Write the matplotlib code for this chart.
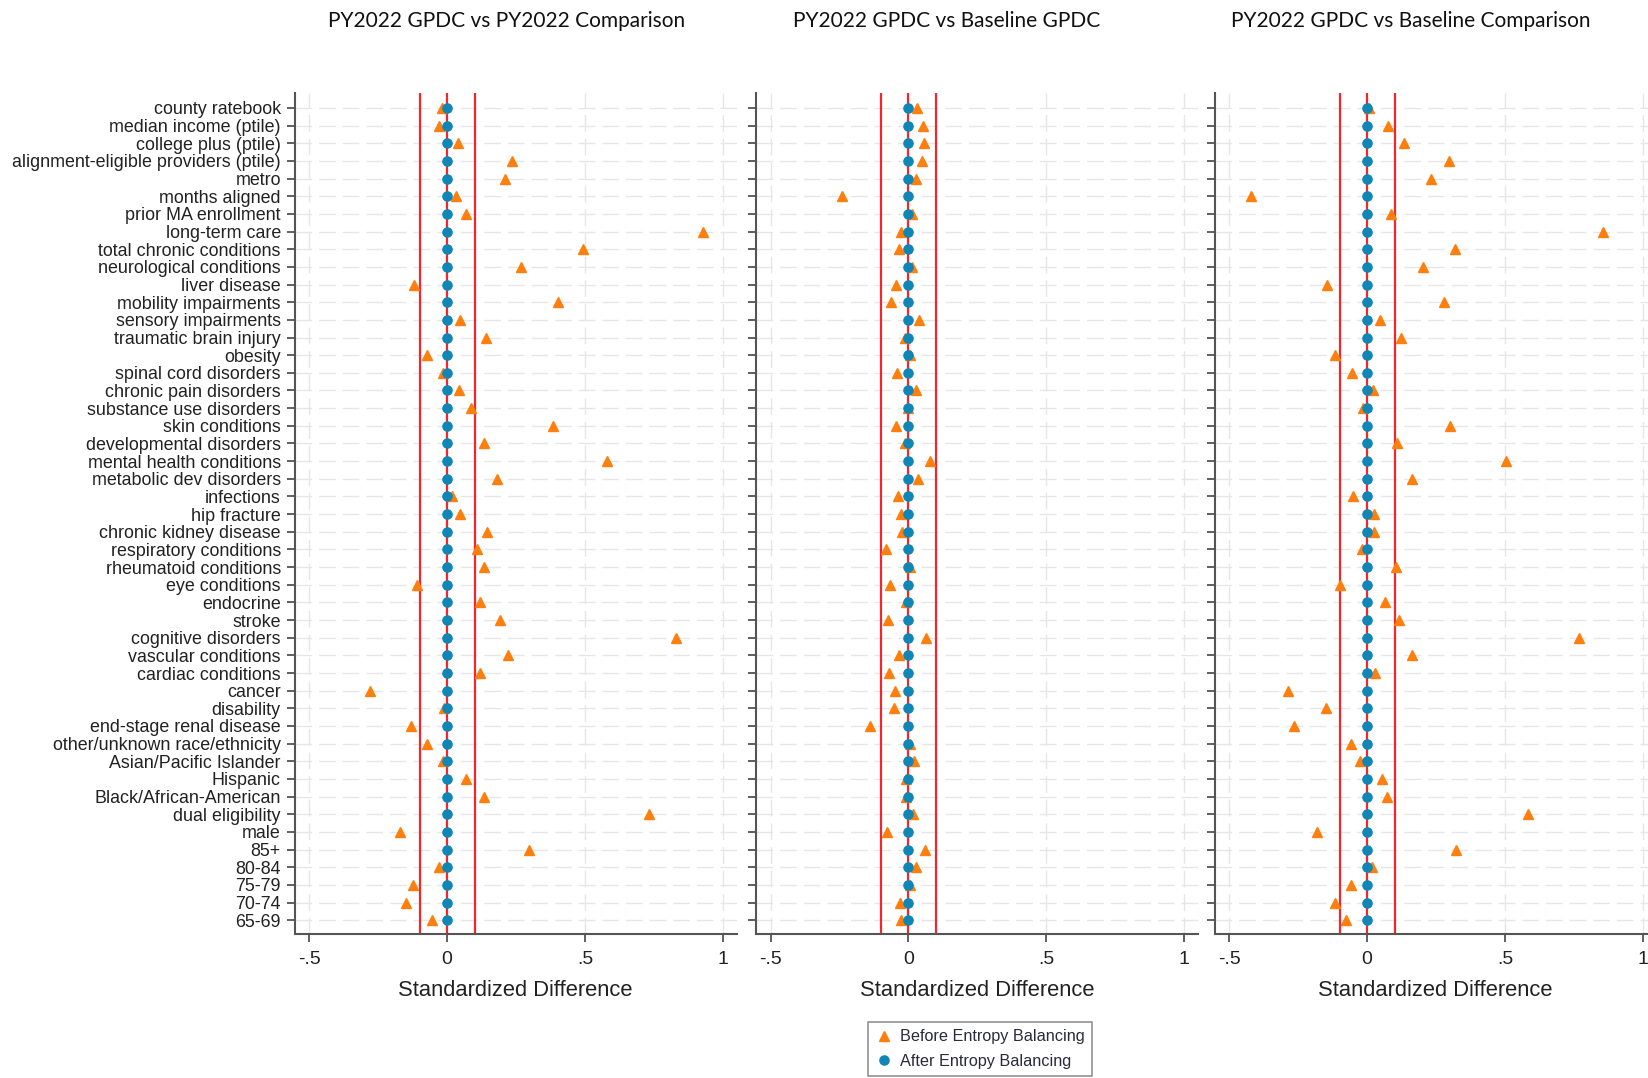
import matplotlib
matplotlib.use('Agg')
import matplotlib.pyplot as plt
import numpy as np

# covariates, top to bottom
labels = ['county ratebook', 'median income (ptile)', 'college plus (ptile)',
          'alignment-eligible providers (ptile)', 'metro', 'months aligned',
          'prior MA enrollment', 'long-term care', 'total chronic conditions',
          'neurological conditions', 'liver disease', 'mobility impairments',
          'sensory impairments', 'traumatic brain injury', 'obesity',
          'spinal cord disorders', 'chronic pain disorders', 'substance use disorders',
          'skin conditions', 'developmental disorders', 'mental health conditions',
          'metabolic dev disorders', 'infections', 'hip fracture',
          'chronic kidney disease', 'respiratory conditions', 'rheumatoid conditions',
          'eye conditions', 'endocrine', 'stroke', 'cognitive disorders',
          'vascular conditions', 'cardiac conditions', 'cancer', 'disability',
          'end-stage renal disease', 'other/unknown race/ethnicity',
          'Asian/Pacific Islander', 'Hispanic', 'Black/African-American',
          'dual eligibility', 'male', '85+', '80-84', '75-79', '70-74', '65-69']

titles = ['PY2022 GPDC vs PY2022 Comparison', 'PY2022 GPDC vs Baseline GPDC',
          'PY2022 GPDC vs Baseline Comparison']

# standardized differences before entropy balancing
before_1 = [-0.018, -0.030, 0.040, 0.235, 0.208, 0.033, 0.069, 0.926, 0.493, 0.266,
            -0.120, 0.401, 0.048, 0.141, -0.074, -0.014, 0.043, 0.086, 0.383, 0.133,
            0.581, 0.179, 0.019, 0.046, 0.143, 0.107, 0.133, -0.110, 0.118, 0.192,
            0.831, 0.222, 0.118, -0.279, -0.012, -0.130, -0.074, -0.014, 0.070, 0.133,
            0.732, -0.170, 0.295, -0.028, -0.124, -0.149, -0.054]
before_2 = [0.030, 0.054, 0.055, 0.049, 0.027, -0.241, 0.011, -0.027, -0.034, 0.012,
            -0.046, -0.065, 0.037, -0.013, 0.005, -0.042, 0.028, -0.002, -0.046, -0.013,
            0.077, 0.035, -0.037, -0.027, -0.022, -0.082, 0.006, -0.067, -0.010, -0.075,
            0.065, -0.034, -0.069, -0.048, -0.054, -0.140, 0.006, 0.020, -0.010, -0.010,
            0.018, -0.077, 0.060, 0.029, 0.004, -0.030, -0.027]
before_3 = [0.007, 0.074, 0.132, 0.298, 0.232, -0.423, 0.088, 0.854, 0.320, 0.203,
            -0.145, 0.280, 0.048, 0.121, -0.117, -0.054, 0.022, -0.014, 0.301, 0.107,
            0.505, 0.163, -0.050, 0.023, 0.025, -0.019, 0.106, -0.098, 0.064, 0.116,
            0.767, 0.162, 0.030, -0.286, -0.150, -0.267, -0.059, -0.025, 0.052, 0.072,
            0.583, -0.182, 0.321, 0.016, -0.059, -0.117, -0.076]

# after entropy balancing everything sits on zero
after_1 = [0.0, 0.0, 0.0, 0.0, 0.0, 0.0, 0.0, 0.0, 0.0, 0.0, 0.0, 0.0, 0.0, 0.0, 0.0, 0.0,
           0.0, 0.0, 0.0, 0.0, 0.0, 0.0, 0.0, 0.0, 0.0, 0.0, 0.0, 0.0, 0.0, 0.0, 0.0, 0.0,
           0.0, 0.0, 0.0, 0.0, 0.0, 0.0, 0.0, 0.0, 0.0, 0.0, 0.0, 0.0, 0.0, 0.0, 0.0]
after_2 = list(after_1)
after_3 = list(after_1)

xticks = [-0.5, 0, 0.5, 1]
xticklabels = ['-.5', '0', '.5', '1']

orange = '#ff7f0e'
blue = '#0f86b6'
red = '#f0282d'

plt.rcParams['font.family'] = ['Liberation Sans', 'DejaVu Sans']

fig = plt.figure(figsize=(16.49, 10.78), dpi=100)

lefts = [294.7, 756, 1214.7]
ypos = np.arange(len(labels))
befores = [before_1, before_2, before_3]
afters = [after_1, after_2, after_3]
title_x = [507, 947, 1411]

for k in range(3):
    ax = fig.add_axes([lefts[k] / 1649, 1 - 934 / 1078, 442 / 1649, (934 - 93.3) / 1078])
    # grid
    for y in ypos:
        ax.axhline(y, color='#e6e6e6', lw=1, ls=(0, (12, 5)), zorder=0)
    for x in [-0.5, 0.5, 1]:
        ax.axvline(x, color='#e6e6e6', lw=1, ls=(0, (12, 5)), zorder=0)
    # thresholds
    for x in [-0.1, 0, 0.1]:
        ax.axvline(x, color=red, lw=1.6, zorder=1)
    ax.plot(befores[k], ypos, '^', color=orange, ms=7.2, mec=orange, zorder=3,
            label='Before Entropy Balancing')
    ax.plot(afters[k], ypos, 'o', color=blue, ms=6.6, mec=blue, zorder=4,
            label='After Entropy Balancing')
    ax.set_xlim(-0.553, 1.05)
    ax.set_ylim(len(labels) - 1 + 0.78, -0.83)
    ax.set_yticks(ypos)
    if k == 0:
        ax.set_yticklabels(labels, fontsize=12.9, color='#222222')
    else:
        ax.set_yticklabels([])
    ax.set_xticks(xticks)
    ax.set_xticklabels(xticklabels, fontsize=14, color='#222222')
    ax.tick_params(axis='y', length=6, width=1.2, color='#444444', pad=4)
    ax.tick_params(axis='x', length=6, width=1.2, color='#444444', pad=6)
    for s in ['top', 'right']:
        ax.spines[s].set_visible(False)
    for s in ['left', 'bottom']:
        ax.spines[s].set_color('#555555')
        ax.spines[s].set_linewidth(1.5)
    ax.set_xlabel('Standardized Difference', fontsize=15.8, color='#222222', labelpad=9)
    fig.text(title_x[k] / 1649, 1 - 21 / 1078, titles[k], ha='center', va='center',
             fontsize=15, family=['Lato', 'DejaVu Sans'], color='#111111')
    if k == 1:
        handles, labs = ax.get_legend_handles_labels()

leg = fig.legend(handles, labs, loc='upper center', bbox_to_anchor=(980 / 1649, 1 - 1022 / 1078),
                 fontsize=11.7, frameon=True, fancybox=False, edgecolor='#777777',
                 handletextpad=0.5, handlelength=1.0, borderpad=0.45, labelspacing=0.6,
                 borderaxespad=0)
leg.get_frame().set_linewidth(1.2)
for t in leg.get_texts():
    t.set_color('#2a2a3a')

fig.savefig('out.png', dpi=100)
